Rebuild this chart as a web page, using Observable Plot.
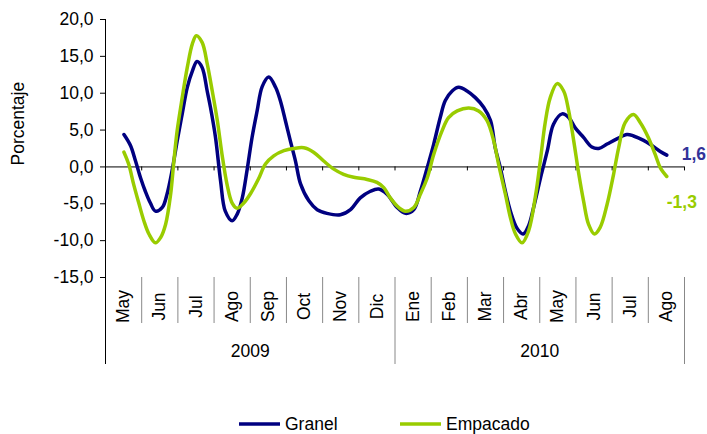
<!DOCTYPE html>
<html>
<head>
<meta charset="utf-8">
<script src="https://cdn.jsdelivr.net/npm/d3@7"></script>
<script src="https://cdn.jsdelivr.net/npm/@observablehq/plot@0.6"></script>
<style>
  html, body { margin: 0; padding: 0; background: #fff; }
  body { width: 707px; height: 434px; overflow: hidden; font-family: "Liberation Sans", Arial, sans-serif; }
  #chart { position: relative; width: 707px; height: 400px; }
  #legend { position: relative; width: 707px; height: 34px; font-size: 17.5px; color: #000; }
  .item { position: absolute; top: 14px; display: flex; align-items: center; height: 20px; }
  .item svg { margin-right: 5px; }
</style>
</head>
<body>
<div id="chart"></div>
<div id="legend"></div>
<script>
// Month categories (x-axis), two levels
const months = ["May","Jun","Jul","Ago","Sep","Oct","Nov","Dic","Ene","Feb","Mar","Abr","May","Jun","Jul","Ago"];
const years = ["2009", "2010"];
const yearMonthCount = [8, 8];
const yTicks = [-15, -10, -5, 0, 5, 10, 15, 20];

// Series: position in months since start of May 2009, and value (%)
const granelT = [0.51,0.69,0.83,0.97,1.10,1.24,1.38,1.57,1.70,1.84,1.98,2.12,2.26,2.40,2.53,2.67,2.81,2.90,3.04,3.18,3.31,3.50,3.64,3.78,3.91,4.05,4.19,4.33,4.51,4.70,4.83,4.97,5.11,5.25,5.39,5.62,5.85,6.12,6.49,6.77,7.04,7.32,7.55,7.78,8.06,8.29,8.52,8.70,8.89,9.07,9.25,9.39,9.58,9.76,9.99,10.22,10.45,10.64,10.77,10.91,11.05,11.19,11.37,11.54,11.69,11.83,12.02,12.21,12.38,12.62,12.80,12.98,13.21,13.44,13.63,13.86,14.13,14.41,14.59,14.87,15.10,15.33,15.51];
const granelV = [4.4,2.9,0.8,-1.5,-3.3,-4.9,-6.0,-5.5,-3.7,-0.5,3.5,7.2,10.8,13.0,14.3,13.5,10.3,8.1,4.0,-1.9,-6.0,-7.3,-6.4,-4.2,-0.5,4.0,7.6,10.9,12.2,10.8,9.0,6.3,3.5,0.8,-2.3,-4.6,-5.8,-6.3,-6.5,-5.8,-4.2,-3.3,-3.0,-3.7,-5.5,-6.3,-5.8,-3.3,-0.1,3.1,6.7,9.0,10.3,10.8,10.3,9.4,8.1,6.3,2.6,-0.1,-3.3,-6.0,-8.3,-9.1,-8.0,-5.5,-1.5,2.2,5.8,7.2,6.7,5.3,4.0,2.7,2.5,3.1,3.8,4.4,4.2,3.6,2.9,2.1,1.6];

const empacadoT = [0.51,0.64,0.78,0.92,1.06,1.20,1.38,1.52,1.66,1.80,1.89,1.98,2.12,2.26,2.40,2.51,2.67,2.81,2.95,3.09,3.22,3.36,3.50,3.64,3.82,4.01,4.23,4.42,4.65,4.93,5.20,5.48,5.75,6.03,6.31,6.58,6.86,7.23,7.50,7.69,7.87,8.10,8.29,8.52,8.70,8.89,9.07,9.30,9.48,9.72,10.04,10.31,10.54,10.73,10.86,11.05,11.19,11.33,11.51,11.69,11.88,12.02,12.15,12.29,12.48,12.66,12.80,12.94,13.08,13.21,13.35,13.51,13.67,13.86,14.04,14.18,14.36,14.59,14.78,15.00,15.19,15.33,15.51];
const empacadoV = [2.0,0.4,-2.4,-4.9,-7.3,-9.1,-10.3,-9.6,-7.8,-3.7,0.8,4.9,9.4,13.5,16.7,17.8,16.9,14.0,10.3,6.3,1.7,-2.4,-4.9,-5.6,-4.9,-3.6,-1.6,0.4,1.5,2.2,2.5,2.6,2.0,0.8,-0.3,-1.0,-1.4,-1.7,-2.1,-2.8,-4.2,-5.5,-6.0,-5.5,-3.7,-1.5,1.7,4.9,6.7,7.6,8.0,7.6,6.3,3.5,0.4,-3.7,-6.9,-9.1,-10.3,-8.7,-4.0,1.0,6.0,9.4,11.3,10.3,7.6,3.5,-1.0,-4.6,-7.8,-9.1,-8.2,-5.1,-1.0,2.6,6.0,7.1,6.0,4.0,1.7,-0.1,-1.3];

const seriesNames = ["Granel", "Empacado"];
const colors = ["#000080", "#99CC00"];
const labelColors = ["#333399", "#99CC00"];

// Build tables
const granel = granelT.map((t, i) => ({t, v: granelV[i]}));
const empacado = empacadoT.map((t, i) => ({t, v: empacadoV[i]}));
const monthData = months.map((m, i) => ({m, c: i + 0.5}));
const boundaries = d3.range(1, months.length + 1);
const yearStarts = d3.cumsum([0, ...yearMonthCount]);
const yearData = years.map((y, i) => ({y, c: (yearStarts[i] + yearStarts[i + 1]) / 2}));
const monthSeps = boundaries.filter(b => !yearStarts.includes(b));
const yearSeps = yearStarts.filter(b => b > 0);
const lastG = granel[granel.length - 1];
const lastE = empacado[empacado.length - 1];
const fmt = d => d.toFixed(1).replace(".", ",");

const font = "Liberation Sans, Arial, sans-serif";
const fs = 17.5;

const chart = Plot.plot({
  width: 707,
  height: 400,
  marginTop: 19,
  marginBottom: 123,
  marginLeft: 105,
  marginRight: 23,
  style: {fontFamily: font, fontSize: fs + "px", color: "#000", background: "#fff"},
  x: {domain: [0, months.length], axis: null},
  y: {domain: [-15, 20], axis: null},
  marks: [
    // y axis
    Plot.axisY({ticks: yTicks, tickFormat: fmt, tickSize: 5, tickPadding: 7, fontSize: fs, label: null, stroke: "#000"}),
    Plot.ruleX([0], {y1: () => 20, y2: () => -15, insetBottom: -87, stroke: "#000", strokeWidth: 1}),
    Plot.text(["Porcentaje"], {frameAnchor: "left", dx: -87, dy: 17, rotate: -90, fontSize: fs, fill: "#000"}),
    // zero line with month ticks
    Plot.ruleY([0], {stroke: "#000", strokeWidth: 1}),
    Plot.ruleX(boundaries, {x: d => d, y1: () => 0, y2: () => 0, insetBottom: -4, stroke: "#000"}),
    // category label box
    Plot.ruleX(monthSeps, {x: d => d, y1: () => -15, y2: () => -15, insetBottom: -46, stroke: "#888"}),
    Plot.ruleX(yearSeps, {x: d => d, y1: () => -15, y2: () => -15, insetBottom: -87, stroke: "#888"}),
    Plot.text(monthData, {x: "c", y: () => -15, text: "m", rotate: -90, dy: 29, fontSize: fs, fill: "#000"}),
    Plot.text(yearData, {x: "c", y: () => -15, text: "y", dy: 74, fontSize: fs, fill: "#000"}),
    // series
    Plot.line(granel, {x: "t", y: "v", stroke: colors[0], strokeWidth: 3.5, curve: "catmull-rom"}),
    Plot.line(empacado, {x: "t", y: "v", stroke: colors[1], strokeWidth: 3.5, curve: "catmull-rom"}),
    // end labels
    Plot.text([lastG], {x: "t", y: "v", text: d => fmt(d.v), textAnchor: "start", dx: 15, dy: -1, fill: labelColors[0], fontWeight: "bold", fontSize: fs}),
    Plot.text([lastE], {x: "t", y: "v", text: d => fmt(d.v), textAnchor: "start", dx: 0, dy: 26, fill: labelColors[1], fontWeight: "bold", fontSize: fs})
  ]
});
document.getElementById("chart").appendChild(chart);

// Legend
const legend = document.getElementById("legend");
const legendX = [239, 400];
seriesNames.forEach((name, i) => {
  const item = document.createElement("div");
  item.className = "item";
  item.style.left = legendX[i] + "px";
  item.innerHTML = `<svg width="41" height="10"><line x1="0" y1="5" x2="41" y2="5" stroke="${colors[i]}" stroke-width="3.5"/></svg><span>${name}</span>`;
  legend.appendChild(item);
});
</script>
</body>
</html>
